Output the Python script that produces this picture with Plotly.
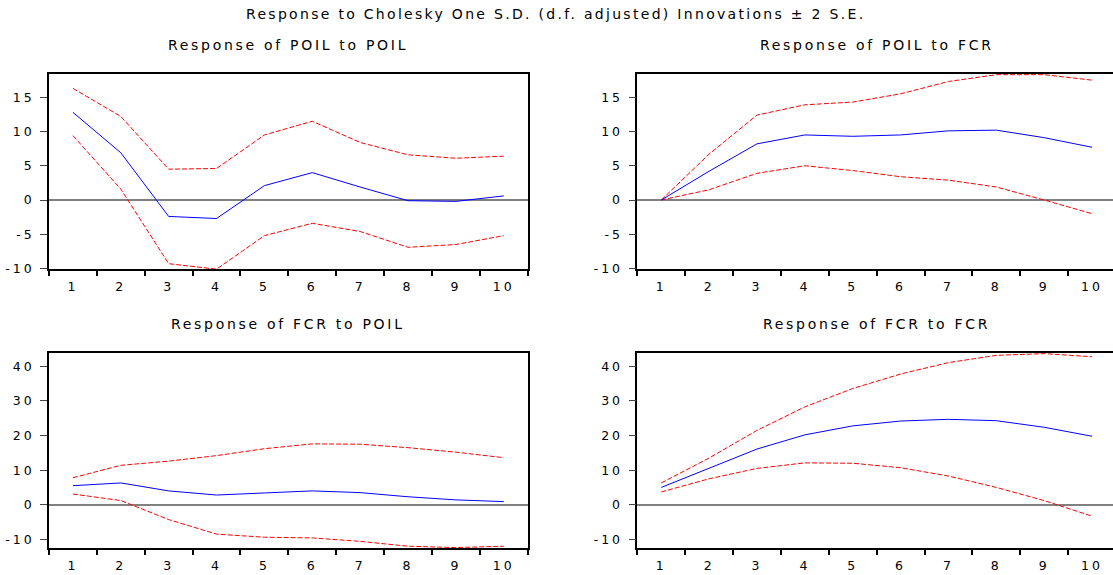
import plotly.graph_objects as go

# ---------------- data ----------------
periods = [1, 2, 3, 4, 5, 6, 7, 8, 9, 10]

poil_to_poil = [12.8, 6.9, -2.4, -2.7, 2.1, 4.0, 1.9, -0.1, -0.2, 0.6]
poil_to_poil_up = [16.3, 12.2, 4.5, 4.6, 9.5, 11.5, 8.4, 6.6, 6.1, 6.4]
poil_to_poil_lo = [9.4, 1.6, -9.3, -10.1, -5.2, -3.4, -4.6, -6.9, -6.5, -5.2]

poil_to_fcr = [0.0, 4.2, 8.2, 9.5, 9.3, 9.5, 10.1, 10.2, 9.1, 7.7]
poil_to_fcr_up = [0.0, 6.7, 12.4, 13.9, 14.3, 15.5, 17.3, 18.3, 18.3, 17.5]
poil_to_fcr_lo = [0.0, 1.5, 3.9, 5.0, 4.3, 3.4, 2.9, 1.9, 0.0, -2.0]

fcr_to_poil = [5.5, 6.3, 4.0, 2.8, 3.4, 4.0, 3.5, 2.3, 1.4, 0.9]
fcr_to_poil_up = [7.8, 11.4, 12.6, 14.2, 16.2, 17.6, 17.5, 16.5, 15.2, 13.6]
fcr_to_poil_lo = [3.1, 1.2, -4.3, -8.5, -9.4, -9.6, -10.6, -12.0, -12.4, -12.0]

fcr_to_fcr = [5.0, 10.6, 16.1, 20.2, 22.8, 24.2, 24.7, 24.3, 22.4, 19.8]
fcr_to_fcr_up = [6.3, 13.5, 21.5, 28.3, 33.6, 37.8, 41.1, 43.2, 43.7, 42.8]
fcr_to_fcr_lo = [3.7, 7.5, 10.5, 12.1, 12.0, 10.7, 8.3, 5.0, 1.2, -3.3]

top_yticks = [-10, -5, 0, 5, 10, 15]
bottom_yticks = [-10, 0, 10, 20, 30, 40]

main_title = "Response to Cholesky One S.D. (d.f. adjusted) Innovations \u00b1 2 S.E."
panel_titles = ["Response of POIL to POIL", "Response of POIL to FCR",
                "Response of FCR to POIL", "Response of FCR to FCR"]

# ---------------- layout geometry (pixels) ----------------
W, H = 1113, 575
CAT_W = 47.87
cols = [(49.0, 527.7), (637.3, 1113.0)]
full_right = [527.7, 637.3 + 10 * CAT_W]
rows = [(74.7, 272.3), (356.3, 554.0)]
yranges = [[-10.14, 18.41], [-12.58, 44.0]]
ytickss = [top_yticks, bottom_yticks]

FONT = "DejaVu Sans"


def spaced(s, ls):
    return "<span style='letter-spacing:%spx'>%s</span>" % (ls, s)


panels = [
    (poil_to_poil, poil_to_poil_up, poil_to_poil_lo),
    (poil_to_fcr, poil_to_fcr_up, poil_to_fcr_lo),
    (fcr_to_poil, fcr_to_poil_up, fcr_to_poil_lo),
    (fcr_to_fcr, fcr_to_fcr_up, fcr_to_fcr_lo),
]

fig = go.Figure()
layout = dict(
    width=W, height=H,
    margin=dict(l=0, r=0, t=0, b=0),
    paper_bgcolor="white", plot_bgcolor="white",
    showlegend=False,
    font=dict(family=FONT, size=12, color="black"),
)
annotations = []

for i, (resp, up, lo) in enumerate(panels):
    r, c = divmod(i, 2)
    sfx = "" if i == 0 else str(i + 1)
    xa, ya = "x" + sfx, "y" + sfx
    for band in (up, lo):
        fig.add_trace(go.Scatter(x=periods, y=band, mode="lines", xaxis=xa, yaxis=ya,
                                 line=dict(color="#ff0000", width=1, dash="5px,2px")))
    fig.add_trace(go.Scatter(x=periods, y=resp, mode="lines", xaxis=xa, yaxis=ya,
                             line=dict(color="#0000ff", width=1)))

    x0, x1 = cols[c]
    y0, y1 = rows[r]
    xr_end = 0.5 + (x1 - x0) / CAT_W
    layout["xaxis" + sfx] = dict(
        domain=[x0 / W, x1 / W], anchor=ya, range=[0.5, xr_end],
        showline=True, linecolor="black", linewidth=1.5, mirror=True,
        showgrid=False, zeroline=False,
        tickmode="array", tickvals=periods,
        ticktext=[spaced(p, 3) for p in periods],
        ticks="", tickfont=dict(family=FONT, size=12.5, color="black"),
        ticklabelstandoff=5,
        minor=dict(tickmode="array", tickvals=[p - 0.5 for p in periods] + [periods[-1] + 0.5],
                   ticks="outside", ticklen=5, tickwidth=1.5, tickcolor="black", showgrid=False),
        fixedrange=True,
    )
    yt = ytickss[r]
    layout["yaxis" + sfx] = dict(
        domain=[1 - y1 / H, 1 - y0 / H], anchor=xa, range=yranges[r],
        showline=True, linecolor="black", linewidth=1.5, mirror=(c == 0),
        showgrid=False,
        zeroline=True, zerolinecolor="#808080", zerolinewidth=2,
        tickmode="array", tickvals=yt, ticktext=[spaced(v, 3) for v in yt],
        ticks="outside", ticklen=7, tickwidth=1, tickcolor="#444444",
        tickfont=dict(family=FONT, size=12.5, color="black"),
        ticklabelstandoff=3,
        fixedrange=True,
    )
    cx = (x0 + (full_right[c] if c == 1 else x1)) / 2
    annotations.append(dict(
        text=spaced(panel_titles[i], 2.7), xref="paper", yref="paper",
        x=cx / W, y=1 - (y0 - 29.2) / H, xanchor="center", yanchor="middle",
        showarrow=False, font=dict(family=FONT, size=14, color="black"),
    ))

annotations.append(dict(
    text=spaced(main_title, 2.3), xref="paper", yref="paper",
    x=555 / W, y=1 - 14.2 / H, xanchor="center", yanchor="middle",
    showarrow=False, font=dict(family=FONT, size=14, color="black"),
))
layout["annotations"] = annotations
fig.update_layout(**layout)

fig.write_html(
    "out.html",
    config={"displayModeBar": False},
    post_script="document.body.style.margin='0';document.body.style.padding='0';"
                "document.documentElement.style.overflow='hidden';",
)
